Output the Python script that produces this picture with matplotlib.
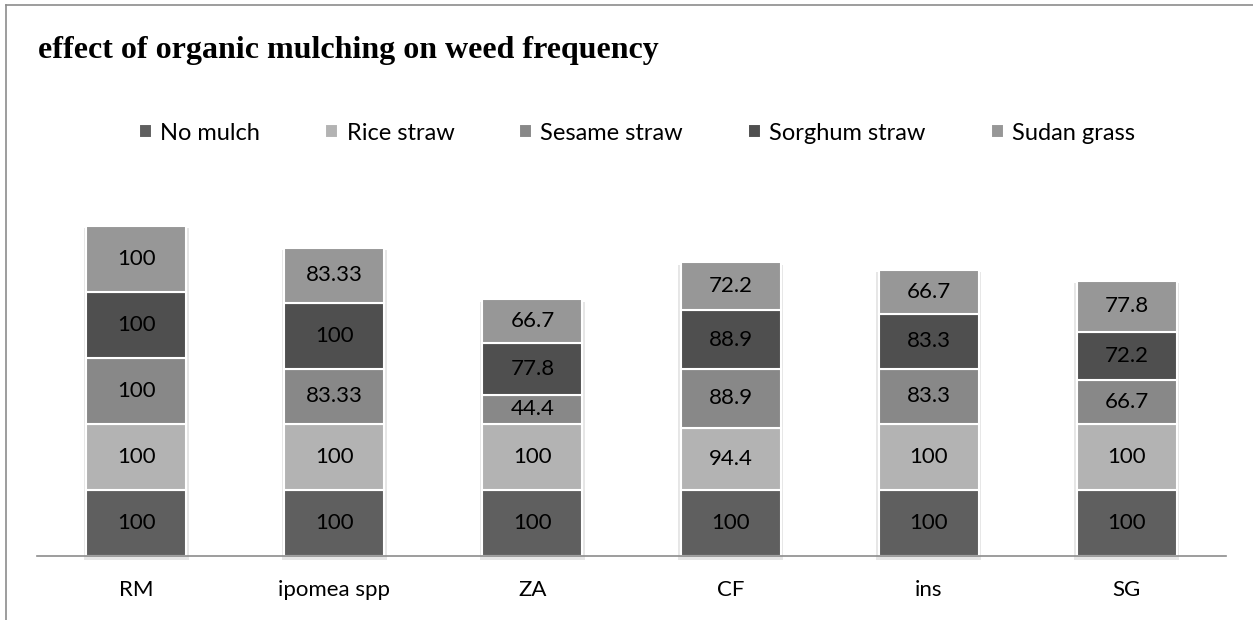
import numpy as np
import matplotlib.pyplot as plt
from matplotlib.lines import Line2D

categories = ['RM', 'ipomea spp', 'ZA', 'CF', 'ins', 'SG']
series = ['No mulch', 'Rice straw', 'Sesame straw', 'Sorghum straw', 'Sudan grass']
no_mulch = [100, 100, 100, 100, 100, 100]
rice_straw = [100, 100, 100, 94.4, 100, 100]
sesame_straw = [100, 83.33, 44.4, 88.9, 83.3, 66.7]
sorghum_straw = [100, 100, 77.8, 88.9, 83.3, 72.2]
sudan_grass = [100, 83.33, 66.7, 72.2, 66.7, 77.8]

colors = ['#5f5f5f', '#b3b3b3', '#888888', '#4f4f4f', '#979797']
data = [no_mulch, rice_straw, sesame_straw, sorghum_straw, sudan_grass]

plt.rcParams['font.family'] = ['Lato', 'DejaVu Sans']

fig = plt.figure(figsize=(12.53, 6.2), dpi=100)
ax = fig.add_axes([37 / 1253, 64 / 620, 1189 / 1253, 356 / 620])

x = np.arange(len(categories))
totals = np.sum(np.array(data, dtype=float), axis=0)

# soft shadow behind each column
ax.bar(x, totals + 2, 0.53, bottom=-6, color='#e6e6e6', zorder=1, clip_on=False)

bottom = np.zeros(len(categories))
for name, vals, c in zip(series, data, colors):
    vals = np.array(vals, dtype=float)
    ax.bar(x, vals, 0.505, bottom=bottom, color=c, edgecolor='white',
           linewidth=1.5, label=name, zorder=3)
    for xi, b, v in zip(x, bottom, vals):
        ax.text(xi, b + v / 2, f"{v:g}", ha='center', va='center',
                fontsize=16, color='black', zorder=4)
    bottom += vals

ax.set_xlim(-0.5, 5.5)
ax.set_ylim(0, 539)
ax.set_xticks(x)
ax.set_xticklabels(categories, fontsize=16)
ax.tick_params(axis='x', length=0, pad=17)
ax.set_yticks([])
for s in ['top', 'right', 'left']:
    ax.spines[s].set_visible(False)
ax.spines['bottom'].set_color('#8c8c8c')
ax.spines['bottom'].set_linewidth(1.2)
ax.spines['bottom'].set_zorder(5)

fig.text(38 / 1253, 1 - 58 / 620, 'effect of organic mulching on weed frequency',
         family='Liberation Serif', fontweight='bold', fontsize=23, va='baseline')

fig.legend(loc='center', bbox_to_anchor=(637 / 1253, 1 - 133 / 620), ncol=5,
           frameon=False, fontsize=17, handlelength=0.55, handleheight=0.55,
           columnspacing=2.75, handletextpad=0.35)

# outer chart border (only top and left visible in the crop)
fig.add_artist(Line2D([6 / 1253, 1], [1 - 5 / 620, 1 - 5 / 620], color='#8c8c8c', lw=1.2))
fig.add_artist(Line2D([6 / 1253, 6 / 1253], [0, 1 - 5 / 620], color='#8c8c8c', lw=1.2))

fig.savefig('out.png', dpi=100)
